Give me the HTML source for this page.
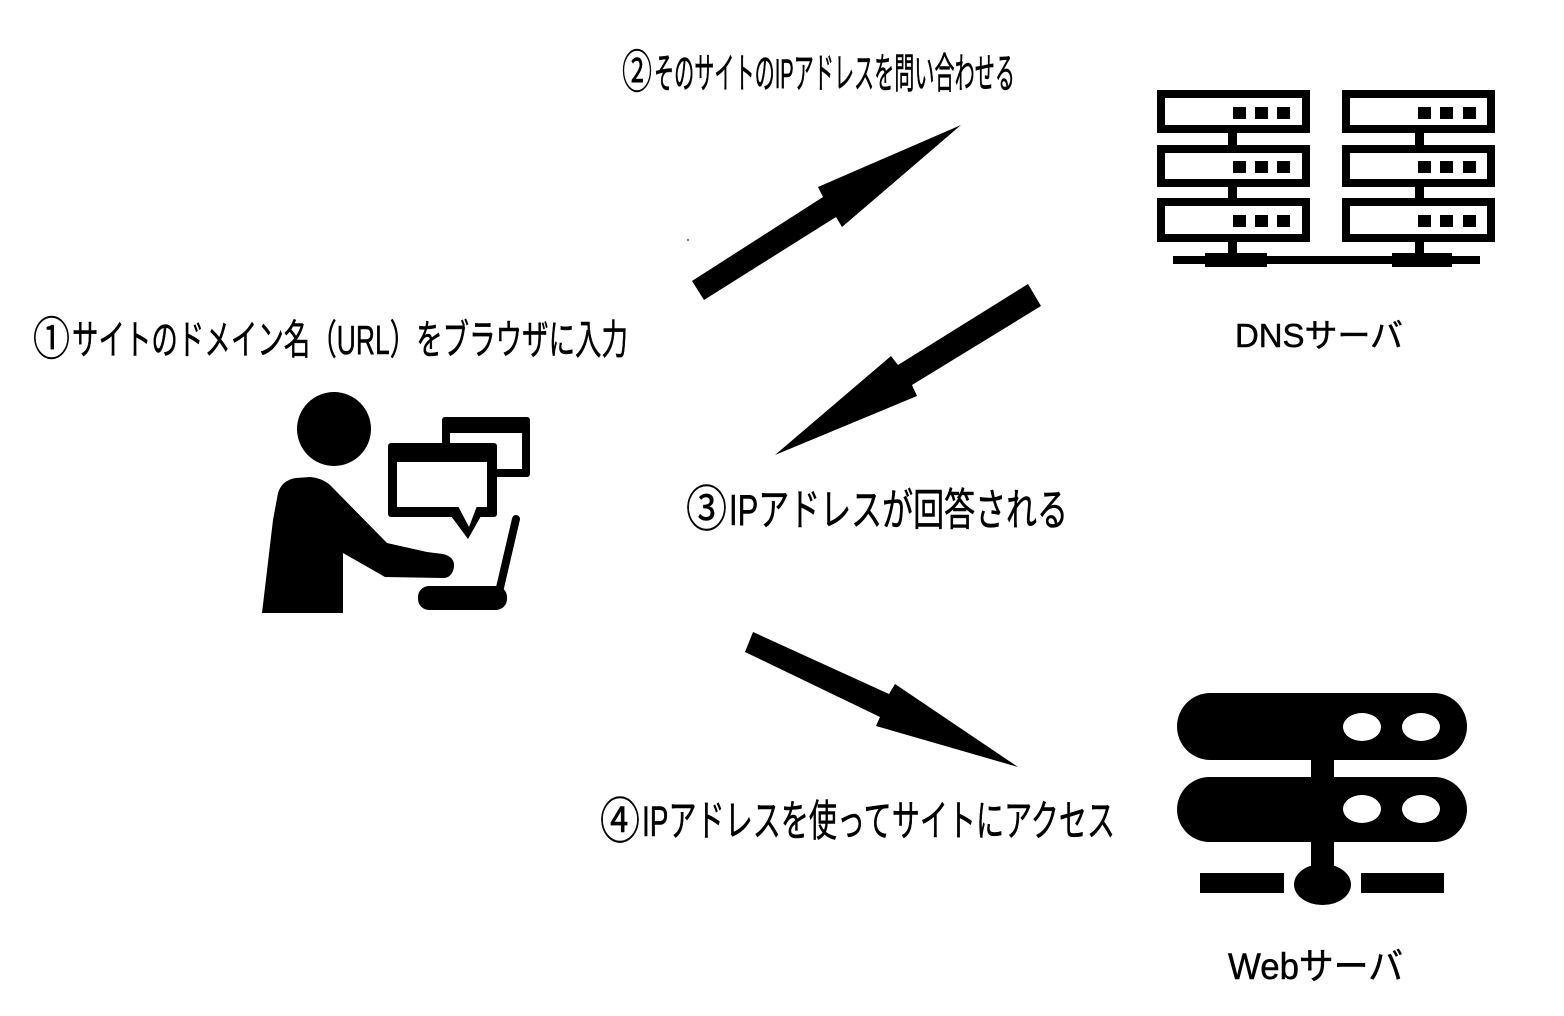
<!DOCTYPE html>
<html>
<head>
<meta charset="utf-8">
<style>
  html, body { margin: 0; padding: 0; background: #ffffff; }
  body { width: 1564px; height: 1016px; overflow: hidden; }
  svg { display: block; }
  text { font-family: "Liberation Sans", "Noto Sans CJK JP", sans-serif; fill: #000; stroke: #000; stroke-width: 0.5; }
</style>
</head>
<body>
<svg width="1564" height="1016" viewBox="0 0 1564 1016" xmlns="http://www.w3.org/2000/svg">
  <rect x="0" y="0" width="1564" height="1016" fill="#ffffff"/>

  <!-- Labels -->
  <text x="33" y="355" font-size="46" textLength="37" lengthAdjust="spacingAndGlyphs">①</text>
  <text x="72" y="354" font-size="41" textLength="556" lengthAdjust="spacingAndGlyphs">サイトのドメイン名（URL）をブラウザに入力</text>

  <text x="622" y="88" font-size="46" textLength="30" lengthAdjust="spacingAndGlyphs">②</text>
  <text x="654" y="88" font-size="42" textLength="361" lengthAdjust="spacingAndGlyphs">そのサイトのIPアドレスを問い合わせる</text>

  <text x="686" y="526" font-size="49" textLength="41" lengthAdjust="spacingAndGlyphs">③</text>
  <text x="729" y="525" font-size="44" textLength="339" lengthAdjust="spacingAndGlyphs">IPアドレスが回答される</text>

  <text x="600" y="838" font-size="49" textLength="40" lengthAdjust="spacingAndGlyphs">④</text>
  <text x="642" y="836" font-size="43" textLength="473" lengthAdjust="spacingAndGlyphs">IPアドレスを使ってサイトにアクセス</text>

  <text x="1235" y="347" font-size="33" textLength="168" lengthAdjust="spacingAndGlyphs">DNSサーバ</text>
  <text x="1228" y="979" font-size="37" textLength="175" lengthAdjust="spacingAndGlyphs">Webサーバ</text>

  <!-- Arrows -->
  <polygon points="692,281 823,197 818,187 961,125 842,227 836,217 704,300" fill="#000"/>
  <polygon points="1028,284 1041,306 912,385 917,396 775,455 891,356 898,365" fill="#000"/>
  <polygon points="753,632 889,694 895,684 1018,767 876,726 880,717 745,652" fill="#000"/>
  <circle cx="688" cy="240" r="1.2" fill="#888"/>

  <!-- Person icon -->
  <circle cx="334" cy="429" r="37" fill="#000"/>
  <path d="M262,613 L273,520 L278,493 Q282,480 296,478 L310,477 Q322,478 330,485 L387,543 L427,552 L443,554 Q455,557 454,567 Q452,578 443,578 L385,577 L343,553 L343,613 Z" fill="#000"/>
  <!-- back window -->
  <rect x="442" y="417" width="88" height="60" rx="3" fill="#000"/>
  <rect x="450" y="433" width="72" height="36" fill="#fff"/>
  <!-- front window -->
  <rect x="388" y="443" width="109" height="74" rx="3" fill="#000"/>
  <polygon points="451,516 468,539 481,516" fill="#000"/>
  <rect x="397" y="462" width="90" height="45" fill="#fff"/>
  <polygon points="458,506 469,527 477,506" fill="#fff"/>
  <!-- laptop -->
  <line x1="516" y1="519" x2="499" y2="592" stroke="#000" stroke-width="8" stroke-linecap="round"/>
  <rect x="418" y="586" width="89" height="24" rx="11" fill="#000"/>

  <!-- DNS server icon -->
  <g fill="none" stroke="#000" stroke-width="8">
    <rect x="1161" y="94" width="145" height="35"/>
    <rect x="1161" y="149" width="145" height="34"/>
    <rect x="1161" y="202" width="145" height="36"/>
    <rect x="1346" y="94" width="145" height="35"/>
    <rect x="1346" y="149" width="145" height="34"/>
    <rect x="1346" y="202" width="145" height="36"/>
  </g>
  <g fill="#000">
    <rect x="1233" y="107" width="13" height="12"/>
    <rect x="1255" y="107" width="13" height="12"/>
    <rect x="1277" y="107" width="13" height="12"/>
    <rect x="1233" y="161" width="13" height="12"/>
    <rect x="1255" y="161" width="13" height="12"/>
    <rect x="1277" y="161" width="13" height="12"/>
    <rect x="1233" y="215" width="13" height="12"/>
    <rect x="1255" y="215" width="13" height="12"/>
    <rect x="1277" y="215" width="13" height="12"/>
    <rect x="1418" y="107" width="13" height="12"/>
    <rect x="1440" y="107" width="13" height="12"/>
    <rect x="1463" y="107" width="13" height="12"/>
    <rect x="1418" y="161" width="13" height="12"/>
    <rect x="1440" y="161" width="13" height="12"/>
    <rect x="1463" y="161" width="13" height="12"/>
    <rect x="1418" y="215" width="13" height="12"/>
    <rect x="1440" y="215" width="13" height="12"/>
    <rect x="1463" y="215" width="13" height="12"/>
    <rect x="1228" y="133" width="9" height="12"/>
    <rect x="1228" y="187" width="9" height="11"/>
    <rect x="1228" y="242" width="9" height="14"/>
    <rect x="1415" y="133" width="9" height="12"/>
    <rect x="1415" y="187" width="9" height="11"/>
    <rect x="1415" y="242" width="9" height="14"/>
    <rect x="1173" y="256" width="307" height="8"/>
    <rect x="1205" y="253" width="62" height="14"/>
    <rect x="1392" y="253" width="60" height="14"/>
  </g>

  <!-- Web server icon -->
  <g fill="#000">
    <rect x="1177" y="693" width="290" height="67" rx="33.5"/>
    <rect x="1177" y="777" width="290" height="65" rx="32.5"/>
    <rect x="1311" y="755" width="23" height="115"/>
    <rect x="1200" y="873" width="84" height="20"/>
    <rect x="1361" y="873" width="83" height="20"/>
    <ellipse cx="1322.5" cy="884.5" rx="28.5" ry="20.5"/>
  </g>
  <g fill="#fff">
    <ellipse cx="1362" cy="727" rx="19" ry="14"/>
    <ellipse cx="1421" cy="727" rx="19" ry="14"/>
    <ellipse cx="1362" cy="809" rx="19" ry="14"/>
    <ellipse cx="1421" cy="809" rx="19" ry="14"/>
  </g>
</svg>
</body>
</html>
